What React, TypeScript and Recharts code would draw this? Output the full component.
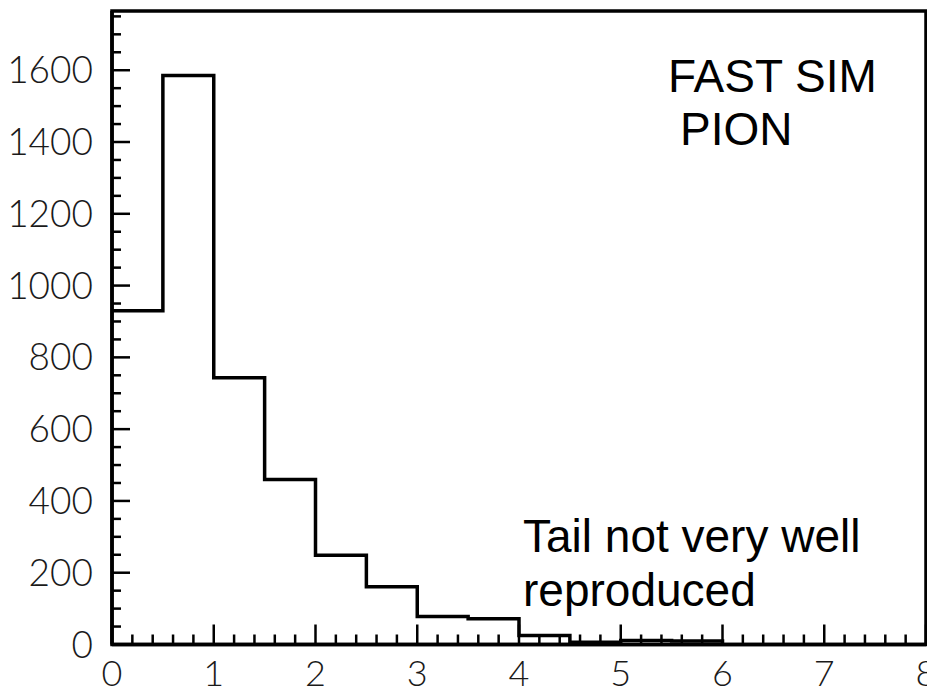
import React from 'react';
import { ComposedChart, Line, XAxis, YAxis, ReferenceArea } from 'recharts';

// Histogram bins (lower edges + final upper edge) and entries per bin
const binEdges = [0, 0.5, 1, 1.5, 2, 2.5, 3, 3.5, 4, 4.5, 5, 5.5, 6];
const binCounts = [930, 1585, 743, 460, 249, 161, 78, 72, 25, 6, 11, 10];

// Axis ticks: labelled (major) and unlabelled (minor)
const xMajorTicks = [0, 1, 2, 3, 4, 5, 6, 7, 8];
const xMinorTicks = [
  0.2, 0.4, 0.6, 0.8, 1.2, 1.4, 1.6, 1.8, 2.2, 2.4, 2.6, 2.8, 3.2, 3.4, 3.6, 3.8,
  4.2, 4.4, 4.6, 4.8, 5.2, 5.4, 5.6, 5.8, 6.2, 6.4, 6.6, 6.8, 7.2, 7.4, 7.6, 7.8,
];
const yMajorTicks = [0, 200, 400, 600, 800, 1000, 1200, 1400, 1600];
const yMinorTicks = [
  50, 100, 150, 250, 300, 350, 450, 500, 550, 650, 700, 750, 850, 900, 950,
  1050, 1100, 1150, 1250, 1300, 1350, 1450, 1500, 1550, 1650, 1700, 1750,
];

const X_MAX = 8;
const Y_MAX = 1765;

// Step points: each bin starts at its lower edge; the histogram closes to zero at the last edge
const histPoints = [
  ...binCounts.map((count, i) => ({ x: binEdges[i], count })),
  { x: binEdges[binEdges.length - 1], count: 0 },
];

const allXTicks = [...xMajorTicks, ...xMinorTicks].sort((a, b) => a - b);
const allYTicks = [...yMajorTicks, ...yMinorTicks].sort((a, b) => a - b);

const W = 927;
const H = 690;
const PLOT_LEFT = 112;
const PLOT_BOTTOM = 644.5;

const labelFont = 'Lato, "Liberation Sans", Arial, sans-serif';
const noteFont = '"Liberation Sans", Arial, Helvetica, sans-serif';

// Inward-pointing ticks on the bottom axis, long for labelled values
function XTick(props: any) {
  const { x, y, payload } = props;
  const major = xMajorTicks.includes(payload.value);
  const len = major ? 20 : 10;
  return (
    <g>
      <line x1={x} x2={x} y1={y} y2={y - len} stroke="#000" strokeWidth={2.5} />
      {major && (
        <text
          x={x}
          y={y + 41}
          textAnchor="middle"
          fontFamily={labelFont}
          fontWeight={300}
          fontSize={36}
          fill="#1a1a1a"
        >
          {payload.value}
        </text>
      )}
    </g>
  );
}

// Inward-pointing ticks on the left axis, long for labelled values
function YTick(props: any) {
  const { x, y, payload } = props;
  const major = yMajorTicks.includes(payload.value);
  const len = major ? 18 : 9;
  return (
    <g>
      <line x1={x} x2={x + len} y1={y} y2={y} stroke="#000" strokeWidth={2.5} />
      {major && (
        <text
          x={x - 19}
          y={y + 13}
          textAnchor="end"
          fontFamily={labelFont}
          fontWeight={300}
          fontSize={37}
          fill="#1a1a1a"
        >
          {payload.value}
        </text>
      )}
    </g>
  );
}

export default function App() {
  return (
    <div style={{ position: 'absolute', left: 0, top: 0, width: W, height: H, background: '#fff' }}>
      <ComposedChart
        width={W}
        height={H}
        data={histPoints}
        margin={{ top: 11, right: 1, bottom: 0, left: 0 }}
      >
        <XAxis
          type="number"
          dataKey="x"
          domain={[0, X_MAX]}
          ticks={allXTicks}
          interval={0}
          height={H - PLOT_BOTTOM}
          tickSize={0}
          tickMargin={0}
          axisLine={{ stroke: '#000', strokeWidth: 3.5 }}
          tickLine={false}
          tick={<XTick />}
          allowDataOverflow
        />
        <YAxis
          type="number"
          domain={[0, Y_MAX]}
          ticks={allYTicks}
          interval={0}
          width={PLOT_LEFT}
          tickSize={0}
          tickMargin={0}
          axisLine={{ stroke: '#000', strokeWidth: 3.5 }}
          tickLine={false}
          tick={<YTick />}
          allowDataOverflow
        />
        <ReferenceArea
          x1={0}
          x2={X_MAX}
          y1={0}
          y2={Y_MAX}
          fill="none"
          fillOpacity={0}
          stroke="#000"
          strokeWidth={3.5}
          ifOverflow="visible"
        />
        <Line
          type="stepAfter"
          dataKey="count"
          stroke="#000"
          strokeWidth={3.5}
          dot={false}
          activeDot={false}
          isAnimationActive={false}
        />
      </ComposedChart>
      <svg
        width={W}
        height={H}
        style={{ position: 'absolute', left: 0, top: 0, pointerEvents: 'none' }}
      >
        <g fontFamily={noteFont} fontSize={46} fill="#000">
          <text x={668} y={92}>FAST SIM</text>
          <text x={680} y={145}>PION</text>
          <text x={523} y={552}>Tail not very well</text>
          <text x={523} y={606}>reproduced</text>
        </g>
      </svg>
    </div>
  );
}
